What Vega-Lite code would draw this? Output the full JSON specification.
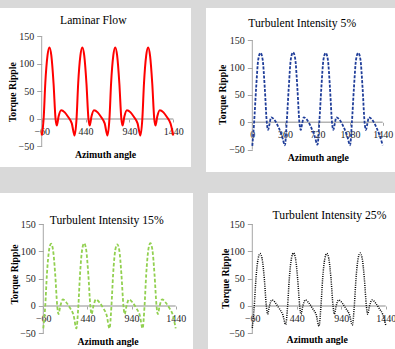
{
  "$schema": "https://vega.github.io/schema/vega-lite/v6.json",
  "background": "#d9d9d9",
  "padding": {"left": 0, "top": 8, "right": 0, "bottom": 0},
  "spacing": 21,
  "datasets": {
    "laminar": [
      {"x": -60, "y": -30}, {"x": -38, "y": 0}, {"x": -19, "y": 65}, {"x": 6, "y": 115}, {"x": 28, "y": 130}, {"x": 50, "y": 115}, {"x": 75, "y": 65}, {"x": 98, "y": 0}, {"x": 112, "y": -12}, {"x": 133, "y": 5}, {"x": 161, "y": 16}, {"x": 203, "y": 12}, {"x": 244, "y": 3}, {"x": 283, "y": -8},
      {"x": 315, "y": -30}, {"x": 337, "y": 0}, {"x": 356, "y": 65}, {"x": 381, "y": 115}, {"x": 403, "y": 130}, {"x": 425, "y": 115}, {"x": 450, "y": 65}, {"x": 473, "y": 0}, {"x": 487, "y": -12}, {"x": 508, "y": 5}, {"x": 536, "y": 16}, {"x": 578, "y": 12}, {"x": 619, "y": 3}, {"x": 658, "y": -8},
      {"x": 690, "y": -30}, {"x": 712, "y": 0}, {"x": 731, "y": 65}, {"x": 756, "y": 115}, {"x": 778, "y": 130}, {"x": 800, "y": 115}, {"x": 825, "y": 65}, {"x": 848, "y": 0}, {"x": 862, "y": -12}, {"x": 883, "y": 5}, {"x": 911, "y": 16}, {"x": 953, "y": 12}, {"x": 994, "y": 3}, {"x": 1033, "y": -8},
      {"x": 1065, "y": -30}, {"x": 1087, "y": 0}, {"x": 1106, "y": 65}, {"x": 1131, "y": 115}, {"x": 1153, "y": 130}, {"x": 1175, "y": 115}, {"x": 1200, "y": 65}, {"x": 1223, "y": 0}, {"x": 1237, "y": -12}, {"x": 1258, "y": 5}, {"x": 1286, "y": 16}, {"x": 1328, "y": 12}, {"x": 1369, "y": 3}, {"x": 1408, "y": -8},
      {"x": 1440, "y": -30}
    ],
    "ti5": [
      {"x": 0, "y": -43}, {"x": 20, "y": 0}, {"x": 42, "y": 62}, {"x": 66, "y": 115}, {"x": 90, "y": 127}, {"x": 114, "y": 115}, {"x": 138, "y": 62}, {"x": 160, "y": 0}, {"x": 175, "y": -14}, {"x": 190, "y": -3}, {"x": 208, "y": 9}, {"x": 255, "y": 2}, {"x": 292, "y": -10}, {"x": 328, "y": -25},
      {"x": 360, "y": -42}, {"x": 380, "y": 0}, {"x": 402, "y": 62}, {"x": 426, "y": 116}, {"x": 450, "y": 128}, {"x": 474, "y": 116}, {"x": 498, "y": 62}, {"x": 520, "y": 0}, {"x": 535, "y": -14}, {"x": 550, "y": -3}, {"x": 568, "y": 9}, {"x": 615, "y": 2}, {"x": 652, "y": -10}, {"x": 688, "y": -25},
      {"x": 720, "y": -41}, {"x": 740, "y": 0}, {"x": 762, "y": 62}, {"x": 786, "y": 115}, {"x": 810, "y": 127}, {"x": 834, "y": 115}, {"x": 858, "y": 62}, {"x": 880, "y": 0}, {"x": 895, "y": -14}, {"x": 910, "y": -3}, {"x": 928, "y": 9}, {"x": 975, "y": 2}, {"x": 1012, "y": -10}, {"x": 1048, "y": -25},
      {"x": 1080, "y": -42}, {"x": 1100, "y": 0}, {"x": 1122, "y": 62}, {"x": 1146, "y": 115}, {"x": 1170, "y": 127}, {"x": 1194, "y": 115}, {"x": 1218, "y": 62}, {"x": 1240, "y": 0}, {"x": 1255, "y": -14}, {"x": 1270, "y": -3}, {"x": 1288, "y": 9}, {"x": 1335, "y": 2}, {"x": 1372, "y": -10}, {"x": 1408, "y": -25},
      {"x": 1440, "y": -42}
    ],
    "ti15": [
      {"x": -60, "y": -41}, {"x": -38, "y": 0}, {"x": -19, "y": 58}, {"x": 6, "y": 103}, {"x": 28, "y": 114}, {"x": 50, "y": 103}, {"x": 75, "y": 58}, {"x": 98, "y": 0}, {"x": 112, "y": -15}, {"x": 133, "y": 0}, {"x": 161, "y": 12}, {"x": 203, "y": 6}, {"x": 244, "y": -4}, {"x": 283, "y": -17},
      {"x": 315, "y": -41}, {"x": 337, "y": 0}, {"x": 356, "y": 58}, {"x": 381, "y": 104}, {"x": 403, "y": 115}, {"x": 425, "y": 104}, {"x": 450, "y": 58}, {"x": 473, "y": 0}, {"x": 487, "y": -15}, {"x": 508, "y": 0}, {"x": 536, "y": 12}, {"x": 578, "y": 6}, {"x": 619, "y": -4}, {"x": 658, "y": -17},
      {"x": 690, "y": -41}, {"x": 712, "y": 0}, {"x": 731, "y": 58}, {"x": 756, "y": 103}, {"x": 778, "y": 113}, {"x": 800, "y": 103}, {"x": 825, "y": 58}, {"x": 848, "y": 0}, {"x": 862, "y": -15}, {"x": 883, "y": 0}, {"x": 911, "y": 12}, {"x": 953, "y": 6}, {"x": 994, "y": -4}, {"x": 1033, "y": -17},
      {"x": 1065, "y": -41}, {"x": 1087, "y": 0}, {"x": 1106, "y": 58}, {"x": 1131, "y": 104}, {"x": 1153, "y": 115}, {"x": 1175, "y": 104}, {"x": 1200, "y": 58}, {"x": 1223, "y": 0}, {"x": 1237, "y": -15}, {"x": 1258, "y": 0}, {"x": 1286, "y": 12}, {"x": 1328, "y": 6}, {"x": 1369, "y": -4}, {"x": 1408, "y": -17},
      {"x": 1440, "y": -41}
    ],
    "ti25": [
      {"x": -60, "y": -40}, {"x": -38, "y": 0}, {"x": -19, "y": 50}, {"x": 6, "y": 87}, {"x": 28, "y": 96}, {"x": 50, "y": 87}, {"x": 75, "y": 50}, {"x": 98, "y": 0}, {"x": 112, "y": -15}, {"x": 133, "y": 0}, {"x": 161, "y": 11}, {"x": 203, "y": 5}, {"x": 244, "y": -5}, {"x": 283, "y": -16},
      {"x": 315, "y": -34}, {"x": 337, "y": 0}, {"x": 356, "y": 50}, {"x": 381, "y": 88}, {"x": 403, "y": 97}, {"x": 425, "y": 88}, {"x": 450, "y": 50}, {"x": 473, "y": 0}, {"x": 487, "y": -15}, {"x": 508, "y": 0}, {"x": 536, "y": 11}, {"x": 578, "y": 5}, {"x": 619, "y": -5}, {"x": 658, "y": -16},
      {"x": 690, "y": -37}, {"x": 712, "y": 0}, {"x": 731, "y": 50}, {"x": 756, "y": 87}, {"x": 778, "y": 96}, {"x": 800, "y": 87}, {"x": 825, "y": 50}, {"x": 848, "y": 0}, {"x": 862, "y": -15}, {"x": 883, "y": 0}, {"x": 911, "y": 11}, {"x": 953, "y": 5}, {"x": 994, "y": -5}, {"x": 1033, "y": -16},
      {"x": 1065, "y": -35}, {"x": 1087, "y": 0}, {"x": 1106, "y": 50}, {"x": 1131, "y": 88}, {"x": 1153, "y": 97}, {"x": 1175, "y": 88}, {"x": 1200, "y": 50}, {"x": 1223, "y": 0}, {"x": 1237, "y": -15}, {"x": 1258, "y": 0}, {"x": 1286, "y": 11}, {"x": 1328, "y": 5}, {"x": 1369, "y": -5}, {"x": 1408, "y": -16},
      {"x": 1440, "y": -35}
    ],
    "one": [{}]
  },
  "config": {
    "view": {"fill": "#ffffff", "stroke": null},
    "axis": {
      "labelFont": "Liberation Serif", "labelFontSize": 10, "labelColor": "#262626",
      "titleFont": "Liberation Serif", "titleFontSize": 9.8, "titleFontWeight": "bold", "titleColor": "#000000",
      "domain": false, "grid": false, "tickColor": "#a6a6a6", "labelOverlap": false, "labelFlush": false,
      "titleAlign": "center", "titleBaseline": "middle", "zindex": 1
    },
    "axisX": {"tickSize": 3, "labelPadding": 4},
    "axisY": {"tickSize": 5, "labelPadding": 3, "titleAngle": 270},
    "title": {"font": "Liberation Serif", "fontSize": 11.7, "fontWeight": "normal", "color": "#000000", "anchor": "middle", "frame": "group"}
  },
  "vconcat": [
    {
      "spacing": 15,
      "hconcat": [
        {
          "width": 191, "height": 159,
          "title": {"text": "Laminar Flow", "offset": -18.3, "dx": -2.2},
          "layer": [
            {
              "data": {"name": "one"},
              "mark": {"type": "rule", "color": "#a6a6a6", "strokeWidth": 1},
              "encoding": {
                "x": {"datum": -60, "type": "quantitative", "scale": {"domain": [-535.3, 1641.8], "nice": false, "zero": false},
                  "axis": {"values": [-60, 440, 940, 1440], "format": "d", "labelFont": "Liberation Serif", "labelOverlap": false, "offset": -48, "title": "Azimuth angle", "titleX": 105, "titleY": 35}},
                "y": {"datum": -50, "type": "quantitative", "scale": {"domain": [-87.3, 201.8], "nice": false, "zero": false},
                  "axis": {"values": [-50, 0, 50, 100, 150], "format": "d", "labelFont": "Liberation Serif", "labelOverlap": false, "offset": -41.7, "title": "Torque Ripple", "titleX": -29, "titleY": 83.7}},
                "y2": {"datum": 150}
              }
            },
            {
              "data": {"name": "one"},
              "mark": {"type": "rule", "color": "#b3b3b3", "strokeWidth": 1.5},
              "encoding": {
                "y": {"datum": 0, "type": "quantitative", "scale": {"domain": [-87.3, 201.8], "nice": false, "zero": false},
                  "axis": {"values": [-50, 0, 50, 100, 150], "format": "d", "labelFont": "Liberation Serif", "labelOverlap": false, "offset": -41.7, "title": "Torque Ripple", "titleX": -29, "titleY": 83.7}},
                "x": {"datum": -60, "type": "quantitative", "scale": {"domain": [-535.3, 1641.8], "nice": false, "zero": false},
                  "axis": {"values": [-60, 440, 940, 1440], "format": "d", "labelFont": "Liberation Serif", "labelOverlap": false, "offset": -48, "title": "Azimuth angle", "titleX": 105, "titleY": 35}},
                "x2": {"datum": 1440}
              }
            },
            {
              "data": {"name": "laminar"},
              "mark": {"type": "line", "color": "#ff0000", "strokeWidth": 2, "interpolate": "monotone"},
              "encoding": {
                "x": {"field": "x", "type": "quantitative", "scale": {"domain": [-535.3, 1641.8], "nice": false, "zero": false},
                  "axis": {"values": [-60, 440, 940, 1440], "format": "d", "labelFont": "Liberation Serif", "labelOverlap": false, "offset": -48, "title": "Azimuth angle", "titleX": 105, "titleY": 35}},
                "y": {"field": "y", "type": "quantitative", "scale": {"domain": [-87.3, 201.8], "nice": false, "zero": false},
                  "axis": {"values": [-50, 0, 50, 100, 150], "format": "d", "labelFont": "Liberation Serif", "labelOverlap": false, "offset": -41.7, "title": "Torque Ripple", "titleX": -29, "titleY": 83.7}}
              }
            }
          ]
        },
        {
          "width": 189, "height": 164,
          "title": {"text": "Turbulent Intensity 5%", "offset": -21.7, "dx": 1.7},
          "layer": [
            {
              "data": {"name": "one"},
              "mark": {"type": "rule", "color": "#a6a6a6", "strokeWidth": 1},
              "encoding": {
                "x": {"datum": 0, "type": "quantitative", "scale": {"domain": [-511.3, 1575.8], "nice": false, "zero": false},
                  "axis": {"values": [0, 360, 720, 1080, 1440], "format": "d", "labelFont": "Liberation Serif", "labelOverlap": false, "offset": -49.7, "title": "Azimuth angle", "titleX": 111.8, "titleY": 35}},
                "y": {"datum": -50, "type": "quantitative", "scale": {"domain": [-90.9, 209], "nice": false, "zero": false},
                  "axis": {"values": [-50, 0, 50, 100, 150], "format": "d", "labelFont": "Liberation Serif", "labelOverlap": false, "offset": -46.3, "title": "Torque Ripple", "titleX": -30, "titleY": 86.3}},
                "y2": {"datum": 150}
              }
            },
            {
              "data": {"name": "one"},
              "mark": {"type": "rule", "color": "#b3b3b3", "strokeWidth": 1.5},
              "encoding": {
                "y": {"datum": 0, "type": "quantitative", "scale": {"domain": [-90.9, 209], "nice": false, "zero": false},
                  "axis": {"values": [-50, 0, 50, 100, 150], "format": "d", "labelFont": "Liberation Serif", "labelOverlap": false, "offset": -46.3, "title": "Torque Ripple", "titleX": -30, "titleY": 86.3}},
                "x": {"datum": 0, "type": "quantitative", "scale": {"domain": [-511.3, 1575.8], "nice": false, "zero": false},
                  "axis": {"values": [0, 360, 720, 1080, 1440], "format": "d", "labelFont": "Liberation Serif", "labelOverlap": false, "offset": -49.7, "title": "Azimuth angle", "titleX": 111.8, "titleY": 35}},
                "x2": {"datum": 1440}
              }
            },
            {
              "data": {"name": "ti5"},
              "mark": {"type": "line", "color": "#1f3d99", "strokeWidth": 1.8, "strokeDash": [3, 1.5], "interpolate": "monotone"},
              "encoding": {
                "x": {"field": "x", "type": "quantitative", "scale": {"domain": [-511.3, 1575.8], "nice": false, "zero": false},
                  "axis": {"values": [0, 360, 720, 1080, 1440], "format": "d", "labelFont": "Liberation Serif", "labelOverlap": false, "offset": -49.7, "title": "Azimuth angle", "titleX": 111.8, "titleY": 35}},
                "y": {"field": "y", "type": "quantitative", "scale": {"domain": [-90.9, 209], "nice": false, "zero": false},
                  "axis": {"values": [-50, 0, 50, 100, 150], "format": "d", "labelFont": "Liberation Serif", "labelOverlap": false, "offset": -46.3, "title": "Torque Ripple", "titleX": -30, "titleY": 86.3}}
              }
            }
          ]
        }
      ]
    },
    {
      "spacing": 15,
      "hconcat": [
        {
          "width": 193, "height": 156,
          "title": {"text": "Turbulent Intensity 15%", "offset": -33.7, "dx": 10.2},
          "layer": [
            {
              "data": {"name": "one"},
              "mark": {"type": "rule", "color": "#a6a6a6", "strokeWidth": 1},
              "encoding": {
                "x": {"datum": -60, "type": "quantitative", "scale": {"domain": [-550.5, 1636], "nice": false, "zero": false},
                  "axis": {"values": [-60, 440, 940, 1440], "format": "d", "labelFont": "Liberation Serif", "labelOverlap": false, "offset": -43, "title": "Azimuth angle", "titleX": 107.5, "titleY": 35.7}},
                "y": {"datum": -50, "type": "quantitative", "scale": {"domain": [-78.8, 207], "nice": false, "zero": false},
                  "axis": {"values": [-50, 0, 50, 100, 150], "format": "d", "labelFont": "Liberation Serif", "labelOverlap": false, "offset": -43.3, "title": "Torque Ripple", "titleX": -29.3, "titleY": 81}},
                "y2": {"datum": 150}
              }
            },
            {
              "data": {"name": "one"},
              "mark": {"type": "rule", "color": "#b3b3b3", "strokeWidth": 1.5},
              "encoding": {
                "y": {"datum": 0, "type": "quantitative", "scale": {"domain": [-78.8, 207], "nice": false, "zero": false},
                  "axis": {"values": [-50, 0, 50, 100, 150], "format": "d", "labelFont": "Liberation Serif", "labelOverlap": false, "offset": -43.3, "title": "Torque Ripple", "titleX": -29.3, "titleY": 81}},
                "x": {"datum": -60, "type": "quantitative", "scale": {"domain": [-550.5, 1636], "nice": false, "zero": false},
                  "axis": {"values": [-60, 440, 940, 1440], "format": "d", "labelFont": "Liberation Serif", "labelOverlap": false, "offset": -43, "title": "Azimuth angle", "titleX": 107.5, "titleY": 35.7}},
                "x2": {"datum": 1440}
              }
            },
            {
              "data": {"name": "ti15"},
              "mark": {"type": "line", "color": "#92d050", "strokeWidth": 1.8, "strokeDash": [3.5, 2], "interpolate": "monotone"},
              "encoding": {
                "x": {"field": "x", "type": "quantitative", "scale": {"domain": [-550.5, 1636], "nice": false, "zero": false},
                  "axis": {"values": [-60, 440, 940, 1440], "format": "d", "labelFont": "Liberation Serif", "labelOverlap": false, "offset": -43, "title": "Azimuth angle", "titleX": 107.5, "titleY": 35.7}},
                "y": {"field": "y", "type": "quantitative", "scale": {"domain": [-78.8, 207], "nice": false, "zero": false},
                  "axis": {"values": [-50, 0, 50, 100, 150], "format": "d", "labelFont": "Liberation Serif", "labelOverlap": false, "offset": -43.3, "title": "Torque Ripple", "titleX": -29.3, "titleY": 81}}
              }
            }
          ]
        },
        {
          "width": 187, "height": 156,
          "title": {"text": "Turbulent Intensity 25%", "offset": -29, "dx": 28},
          "layer": [
            {
              "data": {"name": "one"},
              "mark": {"type": "rule", "color": "#a6a6a6", "strokeWidth": 1},
              "encoding": {
                "x": {"datum": -60, "type": "quantitative", "scale": {"domain": [-558.1, 1544.6], "nice": false, "zero": false},
                  "axis": {"values": [-60, 440, 940, 1440], "format": "d", "labelFont": "Liberation Serif", "labelOverlap": false, "offset": -43, "title": "Azimuth angle", "titleX": 108.7, "titleY": 33}},
                "y": {"datum": -50, "type": "quantitative", "scale": {"domain": [-78.8, 207], "nice": false, "zero": false},
                  "axis": {"values": [-50, 0, 50, 100, 150], "format": "d", "labelFont": "Liberation Serif", "labelOverlap": false, "offset": -44.3, "title": "Torque Ripple", "titleX": -27.3, "titleY": 85.3}},
                "y2": {"datum": 150}
              }
            },
            {
              "data": {"name": "one"},
              "mark": {"type": "rule", "color": "#b3b3b3", "strokeWidth": 1.5},
              "encoding": {
                "y": {"datum": 0, "type": "quantitative", "scale": {"domain": [-78.8, 207], "nice": false, "zero": false},
                  "axis": {"values": [-50, 0, 50, 100, 150], "format": "d", "labelFont": "Liberation Serif", "labelOverlap": false, "offset": -44.3, "title": "Torque Ripple", "titleX": -27.3, "titleY": 85.3}},
                "x": {"datum": -60, "type": "quantitative", "scale": {"domain": [-558.1, 1544.6], "nice": false, "zero": false},
                  "axis": {"values": [-60, 440, 940, 1440], "format": "d", "labelFont": "Liberation Serif", "labelOverlap": false, "offset": -43, "title": "Azimuth angle", "titleX": 108.7, "titleY": 33}},
                "x2": {"datum": 1440}
              }
            },
            {
              "data": {"name": "ti25"},
              "mark": {"type": "line", "color": "#000000", "strokeWidth": 1.5, "strokeDash": [1, 1.2], "interpolate": "monotone"},
              "encoding": {
                "x": {"field": "x", "type": "quantitative", "scale": {"domain": [-558.1, 1544.6], "nice": false, "zero": false},
                  "axis": {"values": [-60, 440, 940, 1440], "format": "d", "labelFont": "Liberation Serif", "labelOverlap": false, "offset": -43, "title": "Azimuth angle", "titleX": 108.7, "titleY": 33}},
                "y": {"field": "y", "type": "quantitative", "scale": {"domain": [-78.8, 207], "nice": false, "zero": false},
                  "axis": {"values": [-50, 0, 50, 100, 150], "format": "d", "labelFont": "Liberation Serif", "labelOverlap": false, "offset": -44.3, "title": "Torque Ripple", "titleX": -27.3, "titleY": 85.3}}
              }
            }
          ]
        }
      ]
    }
  ]
}
